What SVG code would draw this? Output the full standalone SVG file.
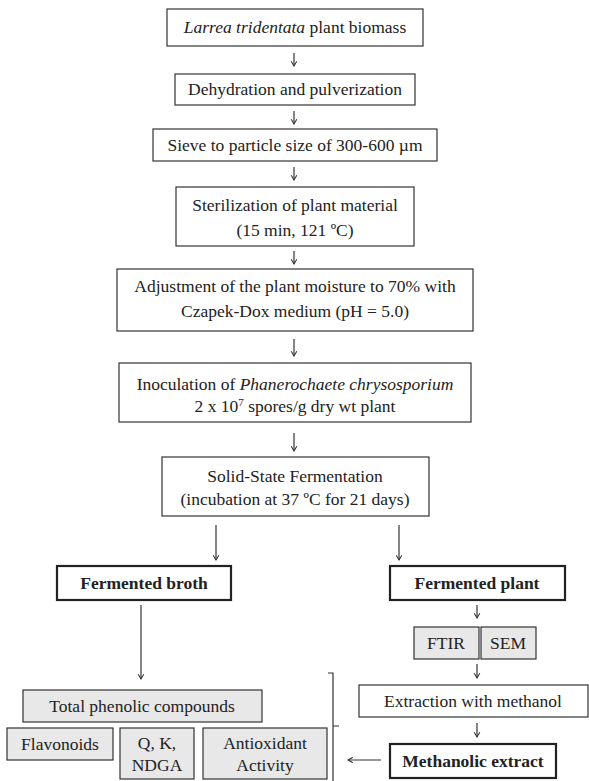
<svg xmlns="http://www.w3.org/2000/svg" width="589" height="781" viewBox="0 0 589 781">
<defs>
<style>
text{font-family:"Liberation Serif","Times New Roman",serif;font-size:17.5px;fill:#222;text-anchor:middle}
.b{font-weight:bold}
.box{fill:#fff;stroke:#333;stroke-width:1.2}
.bold{fill:#fff;stroke:#222;stroke-width:2.2}
.gray{fill:#e8e8e8;stroke:#333;stroke-width:1.2}
.c{stroke:#333;stroke-width:1.2;fill:none}
</style>
<marker id="ah" viewBox="0 0 10 10" refX="9" refY="5" markerWidth="8" markerHeight="8" markerUnits="userSpaceOnUse" orient="auto">
<path d="M3,1.5 L9,5 L3,8.5" fill="none" stroke="#333" stroke-width="1.3"/>
</marker>
</defs>
<rect width="589" height="781" fill="#fff"/>

<g id="connectors">
<line class="c" x1="294" y1="53" x2="294" y2="66" marker-end="url(#ah)"/>
<line class="c" x1="294" y1="111" x2="294" y2="124" marker-end="url(#ah)"/>
<line class="c" x1="294" y1="167" x2="294" y2="180" marker-end="url(#ah)"/>
<line class="c" x1="294" y1="251" x2="294" y2="264" marker-end="url(#ah)"/>
<line class="c" x1="294" y1="339" x2="294" y2="356" marker-end="url(#ah)"/>
<line class="c" x1="294" y1="433" x2="294" y2="451" marker-end="url(#ah)"/>
<line class="c" x1="216" y1="525" x2="216" y2="560" marker-end="url(#ah)"/>
<line class="c" x1="399" y1="525" x2="399" y2="560" marker-end="url(#ah)"/>
<line class="c" x1="141" y1="605" x2="141" y2="679" marker-end="url(#ah)"/>
<line class="c" x1="477" y1="605" x2="477" y2="618" marker-end="url(#ah)"/>
<line class="c" x1="477" y1="664" x2="477" y2="678" marker-end="url(#ah)"/>
<line class="c" x1="477" y1="723" x2="477" y2="737" marker-end="url(#ah)"/>
<line class="c" x1="381" y1="760" x2="348" y2="760" marker-end="url(#ah)"/>
<path class="c" d="M328,673 H333 V781 M333,726 H339"/>
</g>

<g id="n1"><rect class="box" x="167" y="9" width="256" height="37"/>
<text x="295" y="33"><tspan font-style="italic">Larrea tridentata</tspan> plant biomass</text></g>
<g id="n2"><rect class="box" x="175" y="74" width="240" height="31"/>
<text x="295" y="95">Dehydration and pulverization</text></g>
<g id="n3"><rect class="box" x="153" y="129" width="284" height="32"/>
<text x="295" y="151">Sieve to particle size of 300-600 µm</text></g>
<g id="n4"><rect class="box" x="176" y="187" width="238" height="59"/>
<text x="295" y="211">Sterilization of plant material</text>
<text x="295" y="236">(15 min, 121 ºC)</text></g>
<g id="n5"><rect class="box" x="117" y="269" width="356" height="62"/>
<text x="295" y="292">Adjustment of the plant moisture to 70% with</text>
<text x="295" y="317">Czapek-Dox medium (pH = 5.0)</text></g>
<g id="n6"><rect class="box" x="119" y="363" width="352" height="59"/>
<text x="295" y="390">Inoculation of <tspan font-style="italic">Phanerochaete chrysosporium</tspan></text>
<text x="295" y="412">2 x 10<tspan font-size="11" dy="-6">7</tspan><tspan dy="6"> spores/g dry wt plant</tspan></text></g>
<g id="n7"><rect class="box" x="162" y="457" width="267" height="59"/>
<text x="295" y="482">Solid-State Fermentation</text>
<text x="295" y="505">(incubation at 37 ºC for 21 days)</text></g>
<g id="n8"><rect class="bold" x="57" y="566" width="174" height="34"/>
<text class="b" x="144" y="589">Fermented broth</text></g>
<g id="n9"><rect class="bold" x="390" y="566" width="175" height="34"/>
<text class="b" x="477" y="589">Fermented plant</text></g>
<g id="n10"><rect class="gray" x="414" y="627" width="65" height="32"/>
<text x="446" y="649">FTIR</text></g>
<g id="n11"><rect class="gray" x="481" y="627" width="55" height="32"/>
<text x="508" y="649">SEM</text></g>
<g id="n12"><rect class="box" x="359" y="685" width="229" height="32"/>
<text x="473" y="707">Extraction with methanol</text></g>
<g id="n13"><rect class="bold" x="390" y="744" width="166" height="34"/>
<text class="b" x="473" y="767">Methanolic extract</text></g>
<g id="n14"><rect class="gray" x="23" y="690" width="239" height="32"/>
<text x="142" y="712">Total phenolic compounds</text></g>
<g id="n15"><rect class="gray" x="7" y="728" width="106" height="32"/>
<text x="60" y="750">Flavonoids</text></g>
<g id="n16"><rect class="gray" x="120" y="728" width="74" height="51"/>
<text x="157" y="749">Q, K,</text>
<text x="157" y="771">NDGA</text></g>
<g id="n17"><rect class="gray" x="203" y="728" width="124" height="51"/>
<text x="265" y="749">Antioxidant</text>
<text x="265" y="771">Activity</text></g>
</svg>
